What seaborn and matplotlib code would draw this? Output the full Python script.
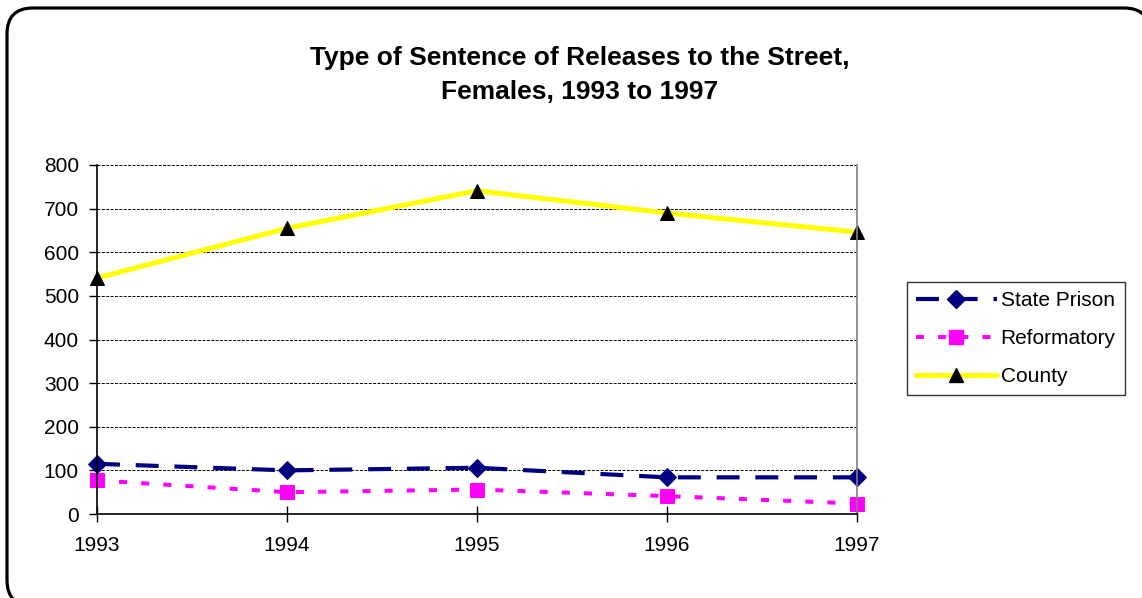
import matplotlib
matplotlib.use("Agg")
import matplotlib.pyplot as plt
from matplotlib.patches import FancyBboxPatch
from matplotlib.lines import Line2D
from matplotlib.transforms import IdentityTransform
import seaborn as sns

# Datos
years = [1993, 1994, 1995, 1996, 1997]
state_prison = [115, 100, 106, 84, 84]
reformatory = [77, 50, 56, 41, 24]
county = [541, 655, 741, 690, 646]

series_names = ["State Prison", "Reformatory", "County"]
y_ticks = [0, 100, 200, 300, 400, 500, 600, 700, 800]

sns.set_theme(style="white", rc={"text.color": "black", "axes.labelcolor": "black",
                                 "xtick.color": "black", "ytick.color": "black"})
plt.rcParams["font.family"] = ["Liberation Sans", "DejaVu Sans"]

fig = plt.figure(figsize=(11.42, 5.98), dpi=100)
ax = fig.add_axes([97 / 1142, 1 - 514 / 598, (857 - 97) / 1142, (514 - 165) / 598])

# Borde redondeado alrededor de toda la figura (en píxeles, sale por la derecha y abajo)
# relleno blanco para evitar el recorte raro de Agg en las curvas
border = FancyBboxPatch((7, -8), 1143, 598,
                        boxstyle="round,pad=0,rounding_size=26",
                        transform=IdentityTransform(), facecolor="white",
                        edgecolor="black", linewidth=2.3, clip_on=False, zorder=-1)
fig.add_artist(border)
ax.patch.set_alpha(0)

# Estilos de las series
sp_style = dict(color="#000080", linewidth=3.0, linestyle=(0, (5.5, 3.8)),
                marker="D", markersize=9, markeredgecolor="#000080")
rf_style = dict(color="#FF00FF", linewidth=2.9, linestyle=(0, (2, 3.5)),
                marker="s", markersize=10, markeredgecolor="#FF00FF")
ct_style = dict(color="#FFFF00", linewidth=3.6, linestyle="-",
                marker="^", markersize=10, markerfacecolor="black",
                markeredgecolor="black")

sns.lineplot(x=years, y=state_prison, ax=ax, clip_on=False, **sp_style)
sns.lineplot(x=years, y=reformatory, ax=ax, clip_on=False, **rf_style)
sns.lineplot(x=years, y=county, ax=ax, clip_on=False, **ct_style)

ax.set_xlim(years[0], years[-1])
ax.set_ylim(0, 800)
ax.set_xticks(years)
ax.set_xticklabels([str(y) for y in years])
ax.set_yticks(y_ticks)
ax.set_xlabel("")
ax.set_ylabel("")

ax.yaxis.grid(True, color="black", linestyle=(0, (3, 1.5)), linewidth=0.7)
ax.xaxis.grid(False)
ax.set_axisbelow(True)

for side in ["left", "bottom"]:
    ax.spines[side].set_color("black")
    ax.spines[side].set_linewidth(1.2)
ax.spines["right"].set_color("#808080")
ax.spines["right"].set_linewidth(1.2)
ax.spines["top"].set_visible(False)

ax.tick_params(axis="y", direction="out", length=6, width=1, color="black",
               labelsize=15, pad=7, left=True)
ax.tick_params(axis="x", direction="inout", length=12, width=1, color="black",
               labelsize=15, pad=10, bottom=True)

fig.text(0.5075, 0.8745, "Type of Sentence of Releases to the Street,\nFemales, 1993 to 1997",
         ha="center", va="center", fontsize=19, fontweight="bold", linespacing=1.5)

handles = [Line2D([], [], **sp_style), Line2D([], [], **rf_style), Line2D([], [], **ct_style)]
leg = fig.legend(handles, series_names, loc="upper left",
                 bbox_to_anchor=(907 / 1142, 1 - 282 / 598),
                 frameon=True, fancybox=False, fontsize=15,
                 handlelength=3.85, handletextpad=0.2, labelspacing=0.9,
                 borderpad=0.45, borderaxespad=0)
leg.get_frame().set_edgecolor("black")
leg.get_frame().set_linewidth(1)

fig.savefig("out.png", dpi=100)
